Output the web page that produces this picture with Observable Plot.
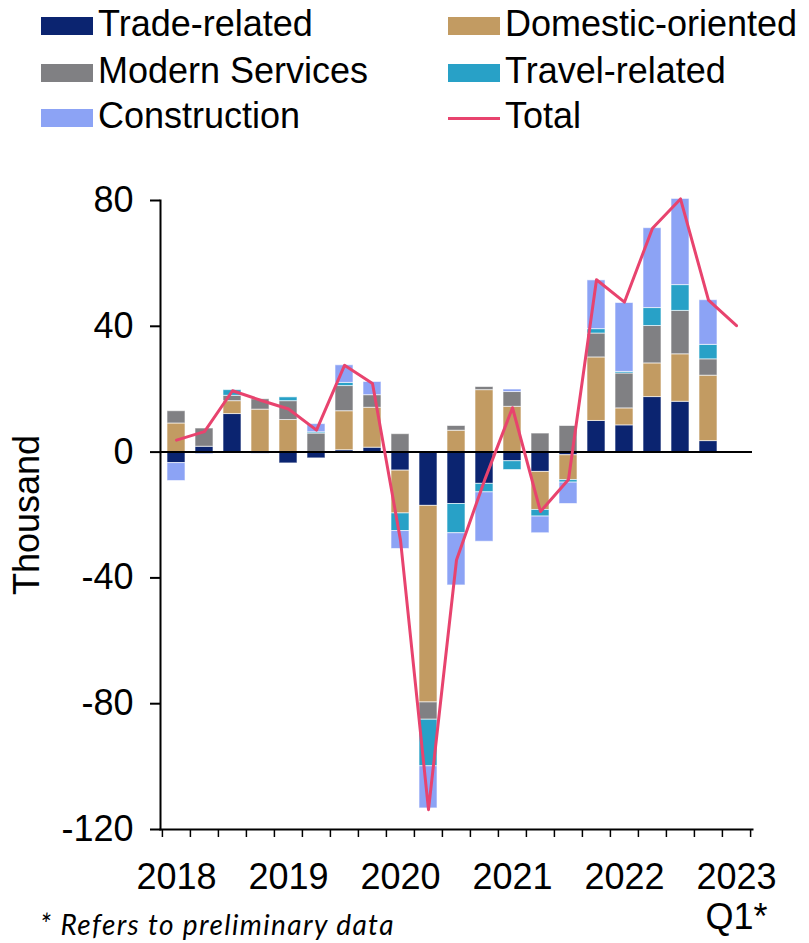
<!DOCTYPE html>
<html>
<head>
<meta charset="utf-8">
<script src="https://cdn.jsdelivr.net/npm/d3@7"></script>
<script src="https://cdn.jsdelivr.net/npm/@observablehq/plot@0.6"></script>
<style>
  html, body { margin: 0; padding: 0; background: #fff; }
  #wrap { position: relative; width: 809px; height: 943px; overflow: hidden; font-family: "Liberation Sans", Arial, sans-serif; }
  #legend { position: absolute; left: 0; top: 0; width: 809px; height: 150px; }
  .item { position: absolute; font-size: 36px; line-height: 36px; color: #000; white-space: nowrap; }
  .sw { position: absolute; }
  #chart { position: absolute; left: 0; top: 150px; }
  #note { position: absolute; left: 40px; top: 910px; font-family: Lato, "Open Sans", sans-serif; font-style: italic; font-size: 28px; line-height: 28px; letter-spacing: 1.4px; color: #000; white-space: nowrap; }
</style>
</head>
<body>
<div id="wrap">
  <div id="legend"></div>
  <div id="chart"></div>
  <div id="note">* Refers to preliminary data</div>
</div>
<script>
// Quarters 2018 Q1 .. 2023 Q1
const quarters = ["2018 Q1","2018 Q2","2018 Q3","2018 Q4","2019 Q1","2019 Q2","2019 Q3","2019 Q4",
  "2020 Q1","2020 Q2","2020 Q3","2020 Q4","2021 Q1","2021 Q2","2021 Q3","2021 Q4",
  "2022 Q1","2022 Q2","2022 Q3","2022 Q4","2023 Q1"];
const seriesNames = ["Trade-related","Domestic-oriented","Modern Services","Travel-related","Construction"];
const seriesColors = ["#0B2470","#C29B62","#808083","#28A1C7","#8CA3F5"];
const totalColor = "#E8436E";

// Contributions (thousand), 2018 Q1 .. 2022 Q4
const tradeRelated     = [-3.5, 1.7, 12.1, 0, -3.6, -2.0, 0.6, 1.4, -5.9, -17.1, -16.5, -10.1, -2.9, -6.3, -1.0, 9.9, 8.5, 17.5, 16.0, 3.5];
const domesticOriented = [9.1, 0, 4.1, 13.5, 10.2, 0, 12.4, 12.7, -13.6, -62.5, 6.8, 19.7, 14.4, -12.1, -7.9, 20.2, 5.4, 10.7, 15.1, 20.8];
const modernServices   = [3.9, 5.8, 1.7, 3.3, 6.0, 5.9, 8.0, 4.0, 5.7, -5.5, 1.5, 1.0, 4.7, 5.9, 8.3, 7.6, 11.1, 11.9, 13.8, 5.2];
const travelRelated    = [0, 0, 1.8, 0, 1.2, 0.4, 1.0, -0.4, -5.6, -14.8, -9.3, -2.7, -2.8, -2.1, -0.8, 1.4, 0.5, 5.7, 8.2, 4.6];
const construction     = [-5.7, -0.7, 0, -0.6, 0, 2.6, 5.6, 4.2, -5.7, -13.4, -16.6, -15.7, 0.8, -5.3, -6.8, 15.5, 21.9, 25.4, 27.4, 14.2];
// Total, 2018 Q1 .. 2023 Q1
const total = [3.8, 6.5, 19.5, 16.5, 13.7, 7.0, 27.6, 21.8, -28, -113.7, -34.3, -9, 14.1, -18.9, -8.7, 54.8, 47.7, 71.2, 80.5, 48.3, 40.2];

const yTicks = [-120, -80, -40, 0, 40, 80];
const yearTicks = ["2018 Q1","2019 Q1","2020 Q1","2021 Q1","2022 Q1","2023 Q1"];
const yearLabels = ["2018","2019","2020","2021","2022","2023\nQ1*"];

const seriesValues = [tradeRelated, domesticOriented, modernServices, travelRelated, construction];
const rows = seriesNames.flatMap((name, s) =>
  seriesValues[s].map((v, i) => ({quarter: quarters[i], series: name, value: v})));
const totalRows = total.map((v, i) => ({quarter: quarters[i], value: v}));

const W = 809, H = 793, mL = 160, mR = 57, mT = 50, mB = 114;
const step = (W - mL - mR) / quarters.length;

const chart = Plot.plot({
  width: W, height: H,
  marginLeft: mL, marginRight: mR, marginTop: mT, marginBottom: mB,
  style: {fontFamily: "'Liberation Sans', Arial, sans-serif", fontSize: "36px", color: "#000", background: "transparent", overflow: "visible"},
  x: {type: "band", domain: quarters, paddingInner: 0.34, paddingOuter: 0.17, axis: null},
  y: {domain: [-120, 80], axis: null},
  color: {domain: seriesNames, range: seriesColors},
  marks: [
    Plot.barY(rows, {x: "quarter", y: "value", fill: "series", stroke: "#fff", strokeOpacity: 0.6, strokeWidth: 1}),
    Plot.ruleY([0], {stroke: "#000", strokeWidth: 2}),
    Plot.lineY(totalRows, {x: "quarter", y: "value", stroke: totalColor, strokeWidth: 3}),
    Plot.frame({anchor: "left", stroke: "#000", strokeWidth: 2}),
    Plot.frame({anchor: "bottom", stroke: "#000", strokeWidth: 2}),
    Plot.axisY({ticks: yTicks, tickSize: 10, tickPadding: 17, strokeWidth: 2, tickFormat: d => String(d),
      label: "Thousand", labelAnchor: "center", labelArrow: "none", labelOffset: 147}),
    Plot.ruleX(quarters, {x: d => d, y1: -120, y2: -120, insetBottom: -8, dx: -step / 2, stroke: "#000", strokeWidth: 1.5}),
    Plot.ruleX(quarters.slice(-1), {x: d => d, y1: -120, y2: -120, insetBottom: -8, dx: step / 2, stroke: "#000", strokeWidth: 1.5}),
    Plot.axisX({ticks: yearTicks, tickSize: 0, tickPadding: 31, lineHeight: 1.12,
      tickFormat: d => yearLabels[yearTicks.indexOf(d)], label: null})
  ]
});
document.getElementById("chart").appendChild(chart);

// Legend
const legendItems = [
  {name: seriesNames[0], color: seriesColors[0], col: 0, row: 0, type: "rect"},
  {name: seriesNames[1], color: seriesColors[1], col: 1, row: 0, type: "rect"},
  {name: seriesNames[2], color: seriesColors[2], col: 0, row: 1, type: "rect"},
  {name: seriesNames[3], color: seriesColors[3], col: 1, row: 1, type: "rect"},
  {name: seriesNames[4], color: seriesColors[4], col: 0, row: 2, type: "rect"},
  {name: "Total", color: totalColor, col: 1, row: 2, type: "line"}
];
const colX = [41, 448];
const rowBase = [36.7, 83.3, 128.3];
const legend = document.getElementById("legend");
legendItems.forEach(it => {
  const sw = document.createElement("div");
  sw.className = "sw";
  sw.style.left = colX[it.col] + "px";
  sw.style.width = "52px";
  if (it.type === "rect") {
    sw.style.top = (rowBase[it.row] - 19.5) + "px";
    sw.style.height = "18px";
  } else {
    sw.style.top = (rowBase[it.row] - 11.5) + "px";
    sw.style.height = "3px";
  }
  sw.style.background = it.color;
  legend.appendChild(sw);
  const t = document.createElement("div");
  t.className = "item";
  t.textContent = it.name;
  t.style.left = (colX[it.col] + 57) + "px";
  t.style.top = (rowBase[it.row] - 30.5) + "px";
  legend.appendChild(t);
});
</script>
</body>
</html>
